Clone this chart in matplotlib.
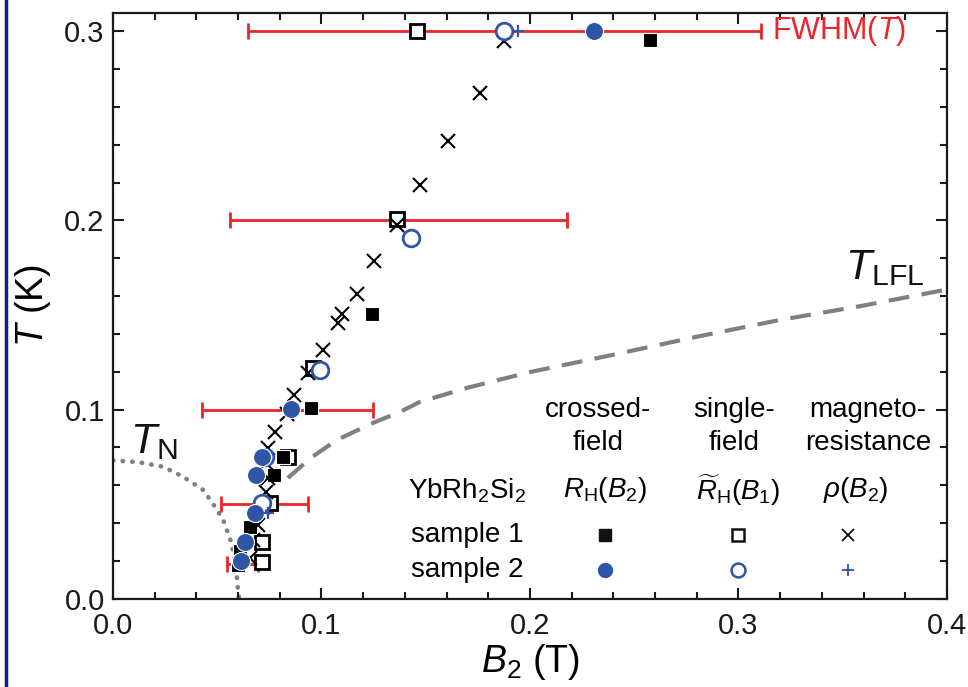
import matplotlib
matplotlib.use("Agg")
import matplotlib.pyplot as plt
from matplotlib.lines import Line2D
from matplotlib.ticker import MultipleLocator

plt.rcParams['font.family'] = ['Liberation Sans', 'DejaVu Sans']
plt.rcParams['mathtext.fontset'] = 'custom'
plt.rcParams['mathtext.rm'] = 'Liberation Sans'
plt.rcParams['mathtext.it'] = 'Liberation Sans:italic'
plt.rcParams['mathtext.bf'] = 'Liberation Sans:bold'

# ---------------- data (B2 in T, T in K) ----------------
# sample 1, magnetoresistance rho(B2)
s1_mr_B = [0.1875, 0.1760, 0.1607, 0.1472, 0.1362, 0.1252, 0.1170, 0.1098, 0.1079, 0.1006,
           0.0937, 0.0868, 0.0833, 0.0777, 0.0743, 0.0734, 0.0743, 0.0734, 0.0715, 0.0695,
           0.0671, 0.0657]
s1_mr_T = [0.295, 0.2675, 0.2421, 0.2188, 0.1976, 0.1786, 0.1611, 0.1505, 0.1458, 0.1315,
           0.1192, 0.1077, 0.0976, 0.0881, 0.0796, 0.0717, 0.0638, 0.0563, 0.0479, 0.0389,
           0.0310, 0.0214]
# sample 1, crossed-field R_H(B2)
s1_cf_B = [0.2576, 0.1241, 0.0948, 0.0817, 0.0774, 0.0657, 0.0609, 0.0601]
s1_cf_T = [0.2955, 0.1504, 0.1006, 0.0750, 0.0653, 0.0380, 0.0251, 0.0177]
# sample 1, single-field R~_H(B1)
s1_sf_B = [0.1457, 0.1361, 0.0958, 0.0839, 0.0753, 0.0713, 0.0713]
s1_sf_T = [0.3004, 0.2008, 0.1220, 0.0749, 0.0504, 0.0301, 0.0195]
# sample 2, crossed-field R_H(B2)
s2_cf_B = [0.2307, 0.0852, 0.0713, 0.0686, 0.0681, 0.0633, 0.0612]
s2_cf_T = [0.3004, 0.1001, 0.0747, 0.0653, 0.0451, 0.0301, 0.0200]
# sample 2, single-field R~_H(B1)
s2_sf_B = [0.1875, 0.1428, 0.0993, 0.0729, 0.0713]
s2_sf_T = [0.3004, 0.1907, 0.1209, 0.0750, 0.0504]
# sample 2, magnetoresistance rho(B2)
s2_mr_B = [0.1942, 0.0743]
s2_mr_T = [0.3004, 0.0452]
# FWHM(T) bars: centre, half width, temperature
fwhm_B = [0.188, 0.1369, 0.0837, 0.0726, 0.0623]
fwhm_hw = [0.123, 0.0808, 0.0412, 0.0209, 0.0074]
fwhm_T = [0.300, 0.200, 0.100, 0.050, 0.018]
# T_N line
tn_B = [0.0, 0.012, 0.0241, 0.0337, 0.0433, 0.0489, 0.0529, 0.0569, 0.0593, 0.0601, 0.0605]
tn_T = [0.0730, 0.0722, 0.0697, 0.0644, 0.0574, 0.0486, 0.0415, 0.0292, 0.0133, 0.0029, 0.0]
# T_LFL line
tlfl_B = [0.0839, 0.095, 0.1074, 0.1247, 0.1376, 0.1472, 0.17, 0.20, 0.24, 0.28, 0.32, 0.36, 0.40]
tlfl_T = [0.0638, 0.0745, 0.0839, 0.0929, 0.0987, 0.1040, 0.1115, 0.1198, 0.1290, 0.1385, 0.1474, 0.155, 0.1635]

# legend-table text
col_heads = [("crossed-", "field"), ("single-", "field"), ("magneto-", "resistance")]
col_quant = [r"$R_{\mathrm{H}}(B_{\mathrm{2}})$", r"$\widetilde{R}_{\mathrm{H}}(B_{\mathrm{1}})$",
             r"$\rho(B_{\mathrm{2}})$"]
row_labels = ["sample 1", "sample 2"]

BLUE = '#2f56a6'
RED = '#e8262b'
GRAY = '#808080'

fig = plt.figure(figsize=(9.68, 6.87), dpi=100)
ax = fig.add_axes([0.1167, 0.1288, 0.8616, 0.8529])

# lines
ax.plot(tn_B, tn_T, linestyle=(0, (0.1, 2.0)), dash_capstyle='round', color=GRAY, lw=3.3, zorder=1)
ax.plot(tlfl_B, tlfl_T, linestyle=(0, (5, 3)), color=GRAY, lw=3.0, zorder=1)

# error bars
ax.errorbar(fwhm_B, fwhm_T, xerr=fwhm_hw, fmt='none', ecolor=RED, elinewidth=2,
            capsize=6, capthick=2, zorder=2)

# data
ax.plot(s1_sf_B, s1_sf_T, 's', ms=10, mfc='white', mec='black', mew=2, zorder=3)
ax.plot(s1_cf_B, s1_cf_T, 's', ms=10, mfc='black', mec='white', mew=0.8, zorder=4)
ax.plot(s1_mr_B, s1_mr_T, 'x', ms=10, color='black', mew=1.5, zorder=5)
ax.plot(s2_sf_B, s2_sf_T, 'o', ms=12, mfc='white', mec=BLUE, mew=2, zorder=6)
ax.plot(s2_cf_B, s2_cf_T, 'o', ms=13, mfc=BLUE, mec='white', mew=0.8, zorder=7)
ax.plot(s2_mr_B, s2_mr_T, '+', ms=9, color=BLUE, mew=1.5, zorder=8)

ax.set_xlim(0, 0.4)
ax.set_ylim(0, 0.31)
ax.xaxis.set_major_locator(MultipleLocator(0.1))
ax.xaxis.set_minor_locator(MultipleLocator(0.02))
ax.yaxis.set_major_locator(MultipleLocator(0.1))
ax.yaxis.set_minor_locator(MultipleLocator(0.02))
ax.tick_params(which='both', direction='in', top=True, right=True, width=1.5, colors='#1a1a1a')
ax.tick_params(which='major', length=8, labelsize=21)
ax.tick_params(axis='x', which='major', pad=10)
ax.tick_params(axis='y', which='major', pad=6)
ax.tick_params(which='minor', length=5)
for s in ax.spines.values():
    s.set_linewidth(1.6)
    s.set_color('#1a1a1a')

ax.set_xlabel(r"$B_{\mathrm{2}}$ (T)", fontsize=27, labelpad=1)
ax.set_ylabel(r"$T$ (K)", fontsize=27, labelpad=8)

# annotations
ax.text(0.316, 0.300, r"FWHM($T$)", color=RED, fontsize=22, ha='left', va='center')
ax.text(0.008, 0.072, r"$T_{\mathrm{N}}$", fontsize=31, ha='left', va='bottom', color='#111111')
ax.text(0.351, 0.164, r"$T_{\mathrm{LFL}}$", fontsize=31, ha='left', va='bottom', color='#111111')

# legend table
col_x = [0.2325, 0.298, 0.362]
for cx, (h1, h2) in zip(col_x, col_heads):
    ax.text(cx, 0.0995, h1, fontsize=20, ha='center', va='center')
    ax.text(cx, 0.0825, h2, fontsize=20, ha='center', va='center')
col_qx = [0.236, 0.300, 0.356]
for cx, q in zip(col_qx, col_quant):
    ax.text(cx, 0.0572, q, fontsize=20, ha='center', va='center')
ax.text(0.170, 0.0572, r"YbRh$_{\mathrm{2}}$Si$_{\mathrm{2}}$", fontsize=20, ha='center', va='center')
ax.text(0.170, 0.0336, row_labels[0], fontsize=20, ha='center', va='center')
ax.text(0.170, 0.0151, row_labels[1], fontsize=20, ha='center', va='center')

mk_x = [0.236, 0.300, 0.3525]
ax.plot([mk_x[0]], [0.0336], 's', ms=8, color='#111111')
ax.plot([mk_x[1]], [0.0336], 's', ms=8, mfc='white', mec='#111111', mew=1.8)
ax.plot([mk_x[2]], [0.0336], 'x', ms=8, color='#111111', mew=1.3)
ax.plot([mk_x[0]], [0.0151], 'o', ms=10, color=BLUE)
ax.plot([mk_x[1]], [0.0151], 'o', ms=10, mfc='white', mec=BLUE, mew=1.8)
ax.plot([mk_x[2]], [0.0151], '+', ms=8, color=BLUE, mew=1.3)

# left navy frame line
fig.add_artist(Line2D([0.0065, 0.0065], [0, 1], transform=fig.transFigure, color='#1a1a8f', lw=2.5))

fig.savefig("out.png", dpi=100)
